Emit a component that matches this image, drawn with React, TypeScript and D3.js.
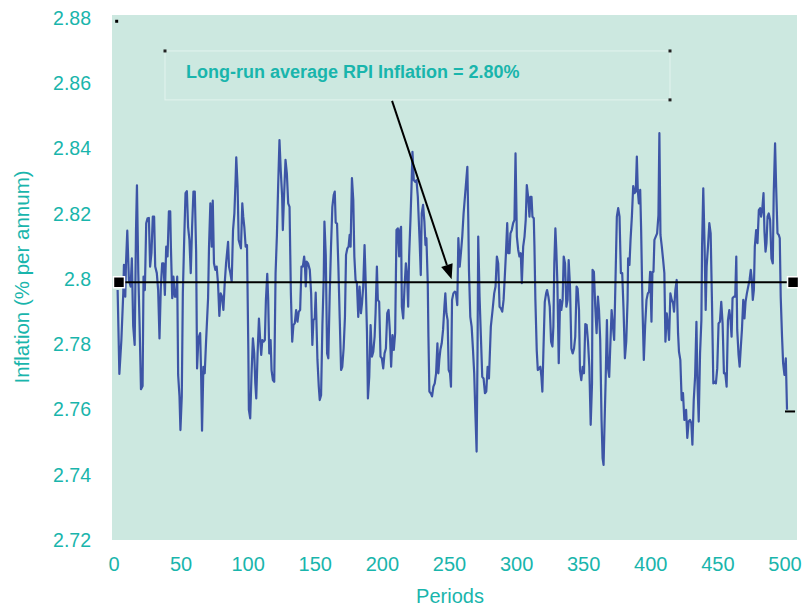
import React from "react";
import * as d3 from "d3";

// ---- data ----
const periods: number[] = [
  2.7, 4.0, 5.5, 6.9, 7.4, 8.4, 8.9, 9.9, 11.1, 12.4, 13.3, 14.3, 15.4, 16.4, 17.1, 18.1, 19.1, 20.1, 21.3, 22.0,
  23.0, 24.0, 25.0, 26.0, 26.9, 27.9, 28.9, 29.9, 30.7, 31.9, 32.9, 33.9, 34.9, 35.9, 36.9, 37.9, 38.9, 39.9, 40.9, 41.9,
  42.4, 43.4, 44.3, 45.3, 46.3, 47.1, 47.8, 48.8, 49.5, 50.5, 51.3, 52.3, 53.3, 54.3, 55.2, 56.2, 57.2, 58.2, 59.2, 60.2,
  61.2, 61.9, 62.9, 64.2, 64.9, 65.6, 66.6, 67.6, 68.6, 70.1,
  70.8, 71.8, 72.8, 73.6, 74.5, 75.5, 76.5, 77.5, 78.5, 79.5, 80.5, 81.5, 82.5, 83.5, 85.0, 85.7, 86.7, 87.7, 88.7, 89.7,
  90.6, 91.1, 92.1, 92.9, 93.6, 94.6, 95.6, 96.3, 97.1, 98.1, 99.1, 100.1, 100.5, 101.5, 102.5, 103.5, 104.5, 105.3, 106.0, 107.0,
  108.0, 109.0, 109.7, 110.5, 111.5, 112.4, 113.2, 114.2, 114.9, 115.7, 116.7, 117.4, 118.4, 119.4, 120.4, 121.4, 122.3, 123.3, 124.3, 125.3,
  125.8, 126.8, 127.8, 128.8, 129.8, 130.8, 131.8, 132.8, 133.7, 134.7, 135.7, 136.7, 137.7, 138.7, 139.7, 140.7, 141.7,
  142.2, 142.9, 143.6, 144.6, 145.9, 146.9, 147.8, 148.6, 149.6, 150.3, 151.6, 152.6, 153.3, 154.3, 155.3, 156.3, 156.8, 157.8, 158.8, 159.7,
  160.7, 161.7, 162.7, 163.7, 164.5, 165.2, 166.2, 167.2, 168.2, 169.2, 170.1, 171.1, 172.1, 172.9, 173.9, 174.8, 175.6, 176.3, 177.3, 178.3,
  179.1, 180.0, 181.0, 182.0, 183.0, 184.0, 184.8, 185.7, 186.7, 187.5, 188.5, 189.2, 190.2, 191.2, 192.2, 193.2, 194.2, 194.9, 195.9, 196.6,
  197.6, 198.6, 199.6, 200.6, 201.6, 202.6, 203.6, 204.6, 205.5, 206.5, 207.5, 208.5, 209.5, 210.5, 211.5, 212.5,
  213.2, 213.9, 214.5, 215.5, 216.5, 217.5, 218.4, 219.2, 219.9, 220.9, 221.7, 222.4, 223.4, 224.4, 225.4, 226.4, 227.1, 227.8, 228.6, 229.3,
  230.3, 231.3, 232.1, 232.8, 233.8, 234.3, 235.0, 236.0, 237.0, 238.0, 239.0, 240.0, 241.0, 241.7, 242.4, 243.2, 244.2, 245.2, 246.2, 246.9,
  247.7, 248.6, 249.4, 250.4, 251.1, 251.9, 252.9, 253.9, 254.8, 255.8, 256.6, 257.6, 258.5, 259.5, 260.5, 261.5, 262.5, 263.3, 264.0, 264.5,
  265.5, 266.5, 267.5, 268.4, 269.2, 270.2, 270.9, 271.4, 272.4, 273.4, 274.4, 275.4, 276.4, 277.4, 278.4, 279.4,
  280.8, 282.1, 283.3, 284.3, 285.3, 286.3, 287.3, 288.3, 289.3, 290.3, 291.2, 292.0, 293.0, 293.7, 294.7, 295.4, 296.4, 297.4, 298.4, 299.2,
  300.2, 301.2, 302.1, 303.1, 303.9, 304.9, 305.9, 306.8, 307.6, 308.6, 309.6, 310.3, 311.1, 311.8, 312.8, 313.3, 314.0, 315.0, 315.8, 316.8,
  317.7, 318.5, 319.2, 320.0, 321.0, 322.0, 322.7, 323.7, 324.7, 325.7, 326.7, 327.4, 328.1, 328.9, 329.6, 330.4, 331.4, 332.4, 333.3, 334.3,
  335.1, 336.1, 337.1, 338.0, 338.8, 339.8, 340.8, 341.8, 342.8, 343.7, 344.7, 345.5, 346.5, 347.2, 348.2, 349.2, 350.2,
  351.2, 352.2, 353.2, 354.2, 355.2, 356.2, 356.6, 357.6, 358.6, 359.6, 360.6, 361.4, 362.3, 363.3, 364.1, 364.8, 365.6, 366.3, 367.3, 368.0,
  369.0, 369.8, 370.8, 371.8, 372.7, 373.7, 374.7, 375.7, 376.7, 377.7, 378.7, 379.7, 380.7, 381.7, 382.7, 383.1, 384.1, 384.9, 385.9, 386.9,
  387.9, 388.8, 389.6, 390.3, 391.1, 392.1, 392.8, 393.8, 394.8, 395.8, 396.8, 397.8, 398.7, 399.5, 400.5, 401.2, 402.0, 402.7, 403.7, 404.7,
  405.7, 406.4, 407.2, 408.2, 409.2, 410.1, 410.9, 411.9, 412.9, 413.6, 414.6, 415.6, 416.6, 417.3, 418.3, 419.3, 420.3, 421.0, 422.0, 423.0,
  424.0, 425.0,
  426.3, 427.2, 428.2, 429.2, 430.2, 431.0, 432.0, 433.0, 434.0, 434.7, 435.7, 436.7, 437.7, 438.2, 439.1, 440.1, 440.9, 441.6, 442.6, 443.6,
  444.6, 445.6, 446.6, 447.6, 448.5, 449.5, 450.5, 451.5, 452.5, 453.5, 454.5, 455.5, 456.5, 457.5, 458.5, 459.4, 460.2, 460.9, 461.9, 462.9,
  463.7, 464.4, 465.4, 466.2, 467.1, 467.9, 468.9, 469.8, 470.6, 471.6, 472.6, 473.6, 474.5, 475.3, 476.0, 476.8, 477.5, 478.5, 479.5, 480.5,
  481.5, 482.2, 483.0, 484.0, 484.7, 485.5, 486.2, 487.0, 487.9, 488.9, 489.9, 490.9, 491.6, 492.6, 493.4, 494.4, 495.4, 496.1, 496.8, 497.8,
  498.6, 499.6, 500.6, 501.5,
];

const inflation: number[] = [
  2.7966, 2.7709, 2.7813, 2.7956, 2.8043, 2.7946, 2.8043, 2.8148, 2.7997, 2.7977, 2.8063, 2.7856, 2.7798, 2.8150, 2.8287, 2.8018, 2.7854, 2.7662, 2.7672, 2.8007,
  2.7966, 2.8171, 2.8186, 2.8187, 2.8038, 2.8079, 2.8191, 2.8191, 2.8038, 2.8018, 2.7966, 2.7818, 2.7977, 2.8048, 2.8048, 2.7951, 2.8099, 2.8069, 2.8207, 2.8207,
  2.8099, 2.7941, 2.8007, 2.7946, 2.7946, 2.8007, 2.7706, 2.7640, 2.7537, 2.7640, 2.7958, 2.8120, 2.8263, 2.8269, 2.8160, 2.8120, 2.8018, 2.8160, 2.8268, 2.8268,
  2.8084, 2.7726, 2.7818, 2.7834, 2.7711, 2.7535, 2.7731, 2.7711, 2.7808, 2.7941,
  2.8099, 2.8232, 2.8099, 2.8240, 2.8048, 2.8028, 2.8038, 2.7987, 2.7887, 2.7956, 2.7946, 2.7905, 2.7987, 2.8048, 2.8114, 2.8038, 2.8018, 2.7992, 2.8150, 2.8201,
  2.8303, 2.8373, 2.8283, 2.8120, 2.8109, 2.8094, 2.8232, 2.8191, 2.8160, 2.8099, 2.8104, 2.7783, 2.7599, 2.7573, 2.7711, 2.7818, 2.7772, 2.7680, 2.7634, 2.7772,
  2.7879, 2.7808, 2.7767, 2.7813, 2.7808, 2.7813, 2.7936, 2.8016, 2.7936, 2.7772, 2.7813, 2.7721, 2.7690, 2.7685, 2.8018, 2.8135, 2.8283, 2.8426, 2.8329, 2.8252,
  2.8150, 2.8263, 2.8365, 2.8324, 2.8232, 2.8221, 2.7956, 2.7808, 2.7859, 2.7864, 2.7905, 2.7869, 2.7900, 2.7905, 2.8038, 2.8038, 2.8069,
  2.8048, 2.7977, 2.8053, 2.8048, 2.8028, 2.7956, 2.7798, 2.7874, 2.7879, 2.7958, 2.7752, 2.7670, 2.7629, 2.7644, 2.7859, 2.8007, 2.8176, 2.8074, 2.7772, 2.7757,
  2.7946, 2.8099, 2.8221, 2.8257, 2.8268, 2.8173, 2.8170, 2.8038, 2.7879, 2.7721, 2.7731, 2.7787, 2.7884, 2.8074, 2.8094, 2.8099, 2.8135, 2.8099, 2.8309, 2.8242,
  2.8069, 2.7997, 2.7987, 2.7884, 2.7977, 2.7895, 2.7925, 2.7977, 2.8104, 2.7997, 2.7838, 2.7634, 2.7700, 2.7859, 2.7762, 2.7777, 2.7823, 2.7895, 2.8038, 2.7936,
  2.7930, 2.7762, 2.7757, 2.7726, 2.7772, 2.7787, 2.7895, 2.7905, 2.7844, 2.7731, 2.7828, 2.7783, 2.7834, 2.8150, 2.8155, 2.8069,
  2.8150, 2.8160, 2.7915, 2.7879, 2.7977, 2.8048, 2.8007, 2.7915, 2.8069, 2.8181, 2.8283, 2.8390, 2.8303, 2.8298, 2.8303, 2.8252, 2.8181, 2.8110, 2.8012, 2.8201,
  2.8227, 2.8176, 2.8104, 2.8125, 2.7987, 2.7823, 2.7655, 2.7650, 2.7640, 2.7670, 2.7680, 2.7711, 2.7803, 2.7711, 2.7752, 2.7783, 2.7803, 2.7844, 2.7915, 2.7956,
  2.7895, 2.7874, 2.7721, 2.7711, 2.7670, 2.7936, 2.7956, 2.7961, 2.7958, 2.7920, 2.8125, 2.8038, 2.8079, 2.8130, 2.8201, 2.8252, 2.8303, 2.8344, 2.8181, 2.8028,
  2.7884, 2.7854, 2.7783, 2.7711, 2.7599, 2.7471, 2.7783, 2.8130, 2.7946, 2.7823, 2.7700, 2.7695, 2.7650, 2.7655, 2.7731, 2.7695,
  2.7854, 2.7905, 2.7956, 2.7977, 2.8069, 2.8048, 2.7915, 2.7910, 2.7900, 2.7936, 2.8007, 2.8074, 2.8171, 2.8079, 2.8079, 2.8140, 2.8150, 2.8171, 2.8181, 2.8385,
  2.8130, 2.8089, 2.8069, 2.8079, 2.7987, 2.8099, 2.8130, 2.8181, 2.8288, 2.8252, 2.8191, 2.8252, 2.8252, 2.8191, 2.8186, 2.8099, 2.7936, 2.7782, 2.7721, 2.7726,
  2.7731, 2.7700, 2.7655, 2.7783, 2.7930, 2.7956, 2.7966, 2.7946, 2.7915, 2.7808, 2.7793, 2.7854, 2.8048, 2.8155, 2.8089, 2.7987, 2.7742, 2.7936, 2.7905, 2.7936,
  2.8069, 2.8048, 2.7915, 2.7936, 2.8058, 2.7977, 2.7787, 2.7772, 2.7787, 2.7823, 2.7977, 2.7970, 2.7905, 2.7721, 2.7690, 2.7731, 2.7711,
  2.7862, 2.7859, 2.7808, 2.7731, 2.7553, 2.7680, 2.8028, 2.8022, 2.7915, 2.7834, 2.7946, 2.7905, 2.7813, 2.7568, 2.7450, 2.7430, 2.7568, 2.7680, 2.7874, 2.7731,
  2.7700, 2.7793, 2.7905, 2.7854, 2.7813, 2.7997, 2.8191, 2.8217, 2.8191, 2.8018, 2.8018, 2.7905, 2.7757, 2.7808, 2.7936, 2.8063, 2.8043, 2.8120, 2.8191, 2.8285,
  2.8263, 2.8268, 2.8375, 2.8273, 2.8232, 2.8273, 2.8150, 2.7915, 2.7752, 2.7859, 2.7936, 2.7956, 2.7961, 2.8022, 2.7869, 2.8022, 2.8022, 2.8120, 2.8130, 2.8140,
  2.8196, 2.8447, 2.8135, 2.8099, 2.8058, 2.8018, 2.7808, 2.7895, 2.7854, 2.7813, 2.7956, 2.7936, 2.7926, 2.7900, 2.7966, 2.7997, 2.7834, 2.7777, 2.7752, 2.7629,
  2.7650, 2.7568,
  2.7599, 2.7513, 2.7563, 2.7568, 2.7558, 2.7492, 2.7629, 2.7700, 2.7869, 2.7695, 2.7563, 2.7772, 2.7874, 2.8099, 2.8278, 2.8099, 2.7905, 2.8038, 2.8099, 2.8171,
  2.8140, 2.7926, 2.7680, 2.7685, 2.7680, 2.7726, 2.7864, 2.7869, 2.7930, 2.7864, 2.7711, 2.7711, 2.7670, 2.7874, 2.7905, 2.7874, 2.7823, 2.7941, 2.7946, 2.7946,
  2.8069, 2.7844, 2.7767, 2.7731, 2.7793, 2.7844, 2.7936, 2.7879, 2.7930, 2.7956, 2.7977, 2.7997, 2.8028, 2.7997, 2.7936, 2.7966, 2.8099, 2.8150, 2.8110, 2.8211,
  2.8217, 2.8191, 2.8211, 2.8263, 2.8145, 2.8084, 2.8110, 2.8191, 2.8201, 2.8181, 2.8063, 2.8048, 2.8263, 2.8416, 2.8283, 2.8140, 2.8135, 2.8125, 2.7946, 2.7823,
  2.7742, 2.7706, 2.7757, 2.7599,
];

const meanValue = 2.799;
const meanPeriods: number[] = [3.7, 506];
const endDash: number[] = [500, 507.5];
const endDashValue = 2.7594;
const cornerMarker: number[] = [2.0, 2.879];
const boxPeriods: number[] = [38.0, 414.3];
const boxValues: number[] = [2.8699, 2.8549];
const arrowPeriods: number[] = [207.2, 251.6];
const xTicks: number[] = [0, 50, 100, 150, 200, 250, 300, 350, 400, 450, 500];
const yTicks: number[] = [2.72, 2.74, 2.76, 2.78, 2.8, 2.82, 2.84, 2.86, 2.88];
const annotationText = "Long-run average RPI Inflation = 2.80%";
const xTitle = "Periods";
const yTitle = "Inflation (% per annum)";

const W = 803;
const H = 608;
const TEAL = "#19b5ac";
const FONT = "'Liberation Sans', Arial, Helvetica, sans-serif";

export default function App() {
  const x = d3.scaleLinear().domain([0, 500]).range([114, 785]);
  const y = d3.scaleLinear().domain([2.72, 2.88]).range([540, 18]);

  const pts: [number, number][] = periods.map((p, i) => [p, inflation[i]]);
  const lineGen = d3
    .line<[number, number]>()
    .x((d) => x(d[0]))
    .y((d) => y(d[1]));
  const path = lineGen(pts) || "";

  const fmtY = (v: number) => {
    const s = v.toFixed(2);
    return s.endsWith("0") ? v.toFixed(1) : s;
  };

  const plotLeft = 112;
  const plotRight = 797;
  const plotTop = 15;
  const plotBottom = 540;

  const my = y(meanValue);
  const mx0 = x(meanPeriods[0]);
  const mx1 = x(meanPeriods[1]);

  const bx0 = x(boxPeriods[0]);
  const bx1 = x(boxPeriods[1]);
  const by0 = y(boxValues[0]);
  const by1 = y(boxValues[1]);

  const ax0 = x(arrowPeriods[0]);
  const ay0 = by1 + 1;
  const ax1 = x(arrowPeriods[1]);
  const ay1 = my - 3;
  const ang = Math.atan2(ay1 - ay0, ax1 - ax0);
  const headLen = 15;
  const headW = 6;
  const hx = ax1 - headLen * Math.cos(ang);
  const hy = ay1 - headLen * Math.sin(ang);
  const px = -Math.sin(ang) * headW;
  const py = Math.cos(ang) * headW;

  return (
    <svg
      width={W}
      height={H}
      style={{ position: "absolute", left: 0, top: 0, background: "#ffffff" }}
    >
      <rect x={plotLeft} y={plotTop} width={plotRight - plotLeft} height={plotBottom - plotTop} fill="#cce8e0" />

      <rect x={x(cornerMarker[0]) - 1.5} y={y(cornerMarker[1]) - 1.5} width={3} height={3} fill="#000" />

      {/* annotation box */}
      <rect x={bx0} y={by0} width={bx1 - bx0} height={by1 - by0} fill="none" stroke="#e2f3ee" strokeWidth={1} />
      <rect x={bx0 - 1.5} y={by0 - 1.5} width={3} height={3} fill="#222" />
      <rect x={bx1 - 1.5} y={by0 - 1.5} width={3} height={3} fill="#222" />
      <rect x={bx1 - 1.5} y={by1 - 1.5} width={3} height={3} fill="#222" />
      <text x={bx0 + 21} y={by0 + 27} fontFamily={FONT} fontWeight="bold" fontSize={18} fill={TEAL}>
        {annotationText}
      </text>

      {/* series */}
      <path d={path} fill="none" stroke="#3d55a6" strokeWidth={2.2} strokeLinejoin="round" />

      {/* mean line */}
      <line x1={mx0} x2={mx1} y1={my} y2={my} stroke="#000" strokeWidth={2} />
      <rect x={mx0 - 5.5} y={my - 5.5} width={11} height={11} fill="#000" stroke="#fff" strokeWidth={1.5} />
      <rect x={mx1 - 5.5} y={my - 5.5} width={11} height={11} fill="#000" stroke="#fff" strokeWidth={1.5} />

      {/* end dash */}
      <line x1={x(endDash[0])} x2={x(endDash[1])} y1={y(endDashValue)} y2={y(endDashValue)} stroke="#000" strokeWidth={2} />

      {/* arrow */}
      <line x1={ax0} y1={ay0} x2={hx} y2={hy} stroke="#000" strokeWidth={2} />
      <path d={`M${ax1},${ay1} L${hx + px},${hy + py} L${hx - px},${hy - py} Z`} fill="#000" />

      {yTicks.map((t) => (
        <text key={t} x={91} y={y(t)} dy="0.35em" textAnchor="end" fontFamily={FONT} fontSize={19.5} fill={TEAL}>
          {fmtY(t)}
        </text>
      ))}
      {xTicks.map((t) => (
        <text key={t} x={x(t)} y={571} textAnchor="middle" fontFamily={FONT} fontSize={20} fill={TEAL}>
          {t}
        </text>
      ))}
      <text x={450} y={603} textAnchor="middle" fontFamily={FONT} fontSize={20} fill={TEAL}>
        {xTitle}
      </text>
      <text
        transform={`translate(29, 277) rotate(-90)`}
        textAnchor="middle"
        fontFamily={FONT}
        fontSize={20.5}
        fill={TEAL}
      >
        {yTitle}
      </text>
    </svg>
  );
}
